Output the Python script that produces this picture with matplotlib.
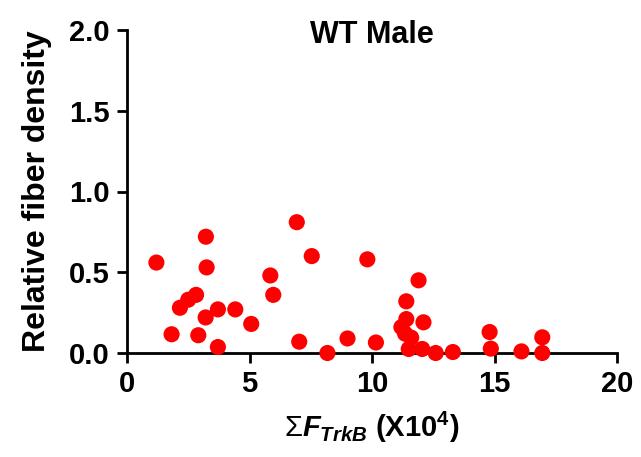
import matplotlib
matplotlib.use("Agg")
import matplotlib.pyplot as plt

# values
x_vals = [1.2, 1.82, 2.16, 2.5, 2.82, 2.91, 3.22, 3.25, 3.21, 3.71, 3.71, 4.42, 5.07,
          5.85, 5.97, 6.93, 7.03, 7.54, 8.18, 9.0, 9.81, 10.16,
          11.9, 11.4, 11.4, 11.2, 11.35, 11.6, 11.5, 12.05, 12.1, 12.6, 13.3,
          14.8, 14.85, 16.1, 16.95, 16.95]
y_vals = [0.56, 0.116, 0.28, 0.33, 0.36, 0.11, 0.72, 0.53, 0.22, 0.27, 0.037, 0.27, 0.18,
          0.48, 0.36, 0.81, 0.07, 0.60, 0.0, 0.09, 0.58, 0.065,
          0.45, 0.32, 0.21, 0.16, 0.12, 0.095, 0.025, 0.025, 0.19, 0.0, 0.006,
          0.13, 0.027, 0.01, 0.097, 0.0]
x_ticks = [0, 5, 10, 15, 20]
y_ticks = [0.0, 0.5, 1.0, 1.5, 2.0]
y_ticklabels = ["0.0", "0.5", "1.0", "1.5", "2.0"]

plt.rcParams['font.family'] = ['Liberation Sans', 'DejaVu Sans']
plt.rcParams['mathtext.fontset'] = 'custom'
plt.rcParams['mathtext.rm'] = 'Liberation Sans'
plt.rcParams['mathtext.it'] = 'Liberation Sans:italic:bold'
plt.rcParams['mathtext.bf'] = 'Liberation Sans:bold'

fig = plt.figure(figsize=(6.41, 4.57), dpi=100)
ax = fig.add_axes([127 / 641, 1 - 353 / 457, 490 / 641, 323 / 457])

ax.scatter(x_vals, y_vals, s=135, color='#ff0000', edgecolors='none',
           zorder=3, clip_on=False)

ax.set_xlim(0, 20)
ax.set_ylim(0, 2)
ax.set_xticks(x_ticks)
ax.set_yticks(y_ticks)
ax.set_yticklabels(y_ticklabels)

for side in ['top', 'right']:
    ax.spines[side].set_visible(False)
for side in ['left', 'bottom']:
    ax.spines[side].set_linewidth(2)
ax.tick_params(width=2, length=7.5, labelsize=21, pad=5)
for lab in ax.get_xticklabels() + ax.get_yticklabels():
    lab.set_fontweight('bold')

ax.set_ylabel('Relative fiber density', fontsize=23, fontweight='bold', labelpad=12)
ax.set_xlabel(r'$\Sigma\mathit{F}_{\mathit{TrkB}}$ (X10$^{\mathbf{4}}$)',
              fontsize=21, fontweight='bold', labelpad=8)
ax.text(0.5, 1.03, 'WT Male', transform=ax.transAxes, ha='center', va='top',
        fontsize=22, fontweight='bold')

fig.savefig('out.png', dpi=100)
